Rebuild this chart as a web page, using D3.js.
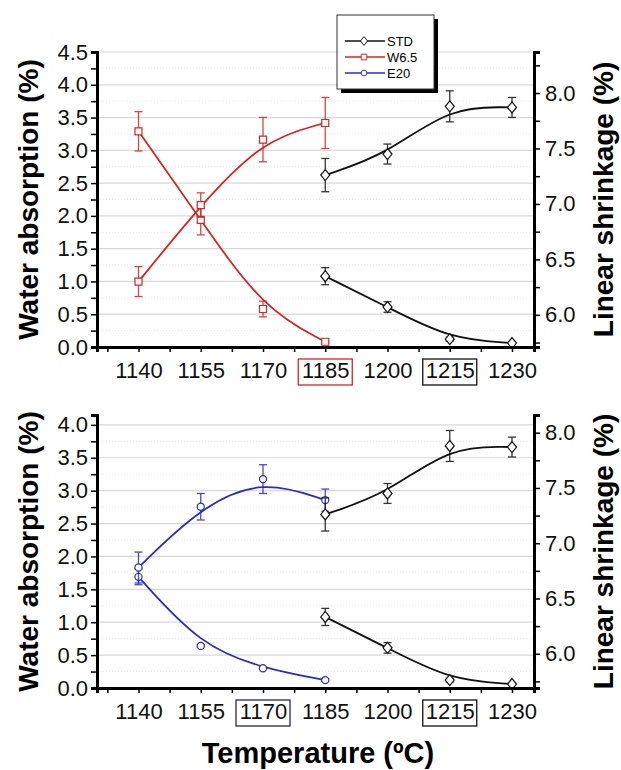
<!DOCTYPE html>
<html>
<head>
<meta charset="utf-8">
<script src="https://cdn.jsdelivr.net/npm/d3@7"></script>
<style>
body { margin: 0; background: #fff; }
text { font-family: "Liberation Sans", Arial, sans-serif; }
</style>
</head>
<body>
<div id="chart"></div>
<script>
// temperatures (x)
const temps = [1140, 1155, 1170, 1185, 1200, 1215, 1230];
const stdTemps = [1185, 1200, 1215, 1230];
const addTemps = [1140, 1155, 1170, 1185];

// STD
const stdShrink = [7.26, 7.45, 7.88, 7.87];
const stdShrinkErr = [0.15, 0.09, 0.14, 0.09];
const stdAbs = [1.08, 0.61, 0.12, 0.06];
const stdAbsErr = [0.13, 0.08, 0.03, 0.02];

// W6.5
const w65Abs = [3.29, 1.94, 0.58, 0.08];
const w65AbsErr = [0.30, 0.23, 0.12, 0.02];
const w65Shrink = [6.30, 6.99, 7.58, 7.73];
const w65ShrinkErr = [0.135, 0.11, 0.20, 0.23];

// E20
const e20Abs = [1.69, 0.64, 0.30, 0.12];
const e20AbsErr = [0.12, 0.02, 0.02, 0.02];
const e20Shrink = [6.78, 7.33, 7.58, 7.39];
const e20ShrinkErr = [0.14, 0.12, 0.13, 0.10];

const leftTicks = [0, 0.5, 1.0, 1.5, 2.0, 2.5, 3.0, 3.5, 4.0, 4.5];
const rightTicks = [6.0, 6.5, 7.0, 7.5, 8.0];

const RED = "#d62424", BLUE = "#2b2bc8", BLACK = "#111";

let svg = d3.select("#chart").append("svg")
	.attr("width", 621)
	.attr("height", 770);

let xScale = d3.scaleLinear().domain([1130, 1235.3]).range([97, 534]);

function zip(xs, ys, es) {
	return xs.map((x, i) => ({x: x, y: ys[i], e: es[i]}));
}

function drawSeries(g, data, yScale, color, marker, curve) {
	let line = d3.line()
		.x(d => xScale(d.x))
		.y(d => yScale(d.y))
		.curve(curve);
	g.append("path")
		.attr("d", line(data))
		.attr("fill", "none")
		.attr("stroke", color)
		.attr("stroke-width", 1.8);
	// error bars
	let eb = g.append("g").selectAll("g").data(data).join("g")
		.attr("stroke", color).attr("stroke-width", 1.3).attr("opacity", 0.85);
	eb.append("line")
		.attr("x1", d => xScale(d.x)).attr("x2", d => xScale(d.x))
		.attr("y1", d => yScale(d.y - d.e)).attr("y2", d => yScale(d.y + d.e));
	eb.append("line")
		.attr("x1", d => xScale(d.x) - 4).attr("x2", d => xScale(d.x) + 4)
		.attr("y1", d => yScale(d.y + d.e)).attr("y2", d => yScale(d.y + d.e));
	eb.append("line")
		.attr("x1", d => xScale(d.x) - 4).attr("x2", d => xScale(d.x) + 4)
		.attr("y1", d => yScale(d.y - d.e)).attr("y2", d => yScale(d.y - d.e));
	// markers
	g.append("g").selectAll("path").data(data).join("path")
		.attr("d", markerPath(marker))
		.attr("transform", d => `translate(${xScale(d.x)},${yScale(d.y)})`)
		.attr("fill", "#fff")
		.attr("stroke", color)
		.attr("stroke-width", 1.2);
}

function markerPath(m) {
	if (m === "diamond") return "M0,-5.5L4.5,0L0,5.5L-4.5,0Z";
	if (m === "square") return "M-3.5,-3.5H3.5V3.5H-3.5Z";
	return d3.symbol(d3.symbolCircle, 40)();
}

function drawPanel(cfg) {
	let g = svg.append("g");
	let yL = d3.scaleLinear().domain(cfg.leftDomain).range([cfg.bottom, cfg.top]);
	let yR = d3.scaleLinear().domain(cfg.rightDomain).range([cfg.bottom, cfg.top]);

	// faint dotted in-between lines
	g.append("g").selectAll("line")
		.data(leftTicks.map(d => d + 0.25).filter(d => d < cfg.leftDomain[1]))
		.join("line")
		.attr("x1", xScale.range()[0]).attr("x2", xScale.range()[1])
		.attr("y1", d => yL(d)).attr("y2", d => yL(d))
		.attr("stroke", "#e6e6e6").attr("stroke-dasharray", "1,2");
	// grid lines
	g.append("g").selectAll("line")
		.data(leftTicks.filter(d => d > 0 && d <= cfg.leftDomain[1]))
		.join("line")
		.attr("x1", xScale.range()[0]).attr("x2", xScale.range()[1])
		.attr("y1", d => yL(d)).attr("y2", d => yL(d))
		.attr("stroke", "#d8d8d8").attr("stroke-width", 1.2);

	cfg.series.forEach(s => {
		drawSeries(g, s.data, s.axis === "L" ? yL : yR, s.color, s.marker, s.curve);
	});

	// axes
	let minorL = d3.range(0, cfg.leftDomain[1] + 0.001, 0.25);
	let axL = d3.axisLeft(yL).tickValues(minorL).tickSize(6).tickPadding(3)
		.tickFormat(d => leftTicks.includes(d) ? d3.format(".1f")(d) : "");
	g.append("g").attr("transform", `translate(${xScale.range()[0]},0)`).call(axL);

	let minorR = d3.range(5.75, cfg.rightDomain[1], 0.25);
	let axR = d3.axisRight(yR).tickValues(minorR).tickSize(6).tickPadding(5)
		.tickFormat(d => rightTicks.includes(d) ? d3.format(".1f")(d) : "");
	g.append("g").attr("transform", `translate(${xScale.range()[1]},0)`).call(axR);

	let minorX = d3.range(1132.5, 1235, 7.5);
	let axX = d3.axisBottom(xScale).tickValues(minorX).tickSize(5).tickPadding(10)
		.tickFormat(d => temps.includes(d) ? d : "");
	g.append("g").attr("transform", `translate(0,${cfg.bottom})`).call(axX);

	g.selectAll(".domain").attr("stroke", "#000").attr("stroke-width", 3);
	g.selectAll(".tick line").attr("stroke", "#000").attr("stroke-width", 1.5);
	g.selectAll(".tick text").attr("font-size", 22).attr("fill", "#111")
		.style("font-family", "'Liberation Sans', Arial, sans-serif");

	// boxes around highlighted temperatures
	cfg.boxes.forEach(b => {
		let cx = xScale(b.t);
		g.append("rect")
			.attr("x", cx - 27).attr("y", cfg.bottom + 12)
			.attr("width", 54).attr("height", 26)
			.attr("fill", "none").attr("stroke", b.color).attr("stroke-width", 1.3);
	});

	// axis titles
	let mid = (cfg.top + cfg.bottom) / 2;
	g.append("text")
		.text("Water absorption (%)")
		.attr("transform", `translate(38,${mid}) rotate(-90)`)
		.attr("text-anchor", "middle")
		.attr("font-size", 28).attr("font-weight", "bold");
	g.append("text")
		.text("Linear shrinkage (%)")
		.attr("transform", `translate(613,${mid}) rotate(-90)`)
		.attr("text-anchor", "middle")
		.attr("font-size", 28).attr("font-weight", "bold");
}

drawPanel({
	top: 52, bottom: 347,
	leftDomain: [0, 4.5], rightDomain: [5.71, 8.37],
	boxes: [{t: 1185, color: RED}, {t: 1215, color: BLACK}],
	series: [
		{data: zip(addTemps, w65Abs, w65AbsErr), axis: "L", color: RED, marker: "square", curve: d3.curveBasis},
		{data: zip(addTemps, w65Shrink, w65ShrinkErr), axis: "R", color: RED, marker: "square", curve: d3.curveBasis},
		{data: zip(stdTemps, stdAbs, stdAbsErr), axis: "L", color: BLACK, marker: "diamond", curve: d3.curveBasis},
		{data: zip(stdTemps, stdShrink, stdShrinkErr), axis: "R", color: BLACK, marker: "diamond", curve: d3.curveBasis}
	]
});

drawPanel({
	top: 415, bottom: 688,
	leftDomain: [0, 4.15], rightDomain: [5.69, 8.16],
	boxes: [{t: 1170, color: "#23237a"}, {t: 1215, color: BLACK}],
	series: [
		{data: zip(addTemps, e20Abs, e20AbsErr), axis: "L", color: BLUE, marker: "circle", curve: d3.curveBasis},
		{data: zip(addTemps, e20Shrink, e20ShrinkErr), axis: "R", color: BLUE, marker: "circle", curve: d3.curveBasis},
		{data: zip(stdTemps, stdAbs, stdAbsErr), axis: "L", color: BLACK, marker: "diamond", curve: d3.curveBasis},
		{data: zip(stdTemps, stdShrink, stdShrinkErr), axis: "R", color: BLACK, marker: "diamond", curve: d3.curveBasis}
	]
});

svg.append("text")
	.text("Temperature (ºC)")
	.attr("x", 318).attr("y", 763)
	.attr("text-anchor", "middle")
	.attr("font-size", 29).attr("font-weight", "bold");

// legend
let legend = svg.append("g").attr("transform", "translate(337,15)");
legend.append("rect").attr("x", 4).attr("y", 4).attr("width", 97).attr("height", 74).attr("fill", "#000");
legend.append("rect").attr("width", 97).attr("height", 74)
	.attr("fill", "#fff").attr("stroke", "#333").attr("stroke-width", 1);
let legendItems = [
	{name: "STD", color: BLACK, marker: "diamond"},
	{name: "W6.5", color: RED, marker: "square"},
	{name: "E20", color: BLUE, marker: "circle"}
];
legend.selectAll("g.item").data(legendItems).join("g")
	.attr("class", "item")
	.attr("transform", (d, i) => `translate(0,${26 + i * 16})`)
	.each(function(d) {
		let it = d3.select(this);
		it.append("line").attr("x1", 8).attr("x2", 48).attr("stroke", d.color).attr("stroke-width", 1.3);
		it.append("path").attr("d", markerPath(d.marker)).attr("transform", "translate(27,0) scale(0.8)")
			.attr("fill", "#fff").attr("stroke", d.color).attr("stroke-width", 1.2);
		it.append("text").text(d.name).attr("x", 50).attr("dy", "0.35em").attr("font-size", 13);
	});
</script>
</body>
</html>
